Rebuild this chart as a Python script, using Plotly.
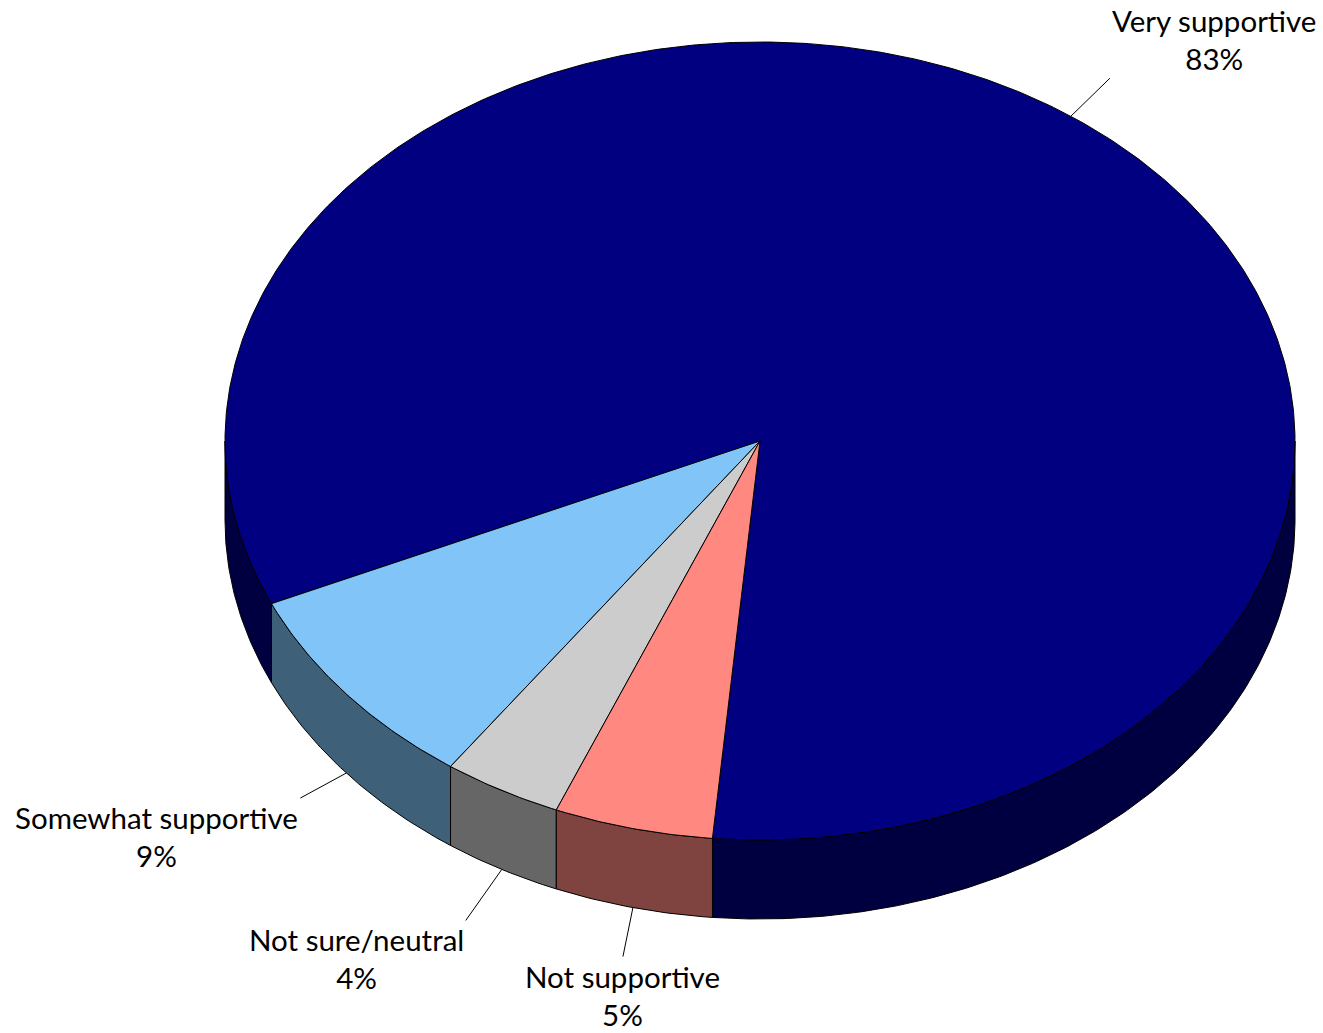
import numpy as np
import plotly.graph_objects as go

# ---- data ----
categories = ["Very supportive", "Somewhat supportive", "Not sure/neutral", "Not supportive"]
shares = [83.1, 8.5, 3.6, 4.8]          # percent of respondents (estimated)
pct_labels = ["83%", "9%", "4%", "5%"]

# ---- styles ----
top_colors = ["#000080", "#80C4F8", "#CCCCCC", "#FF8880"]
side_colors = ["#000040", "#3E6079", "#666666", "#7F4440"]

# ---- geometry (pixel space) ----
W, H = 1323, 1033
CX, CY = 760, 441
RX, RY = 535, 399
DEPTH = 79
START = 455.1          # degrees, screen-clockwise param angle; slices go counter-clockwise

# leader line vectors and label anchoring per category
leader_vec = {
    "Very supportive": (39, -38, "left", "bottom"),
    "Somewhat supportive": (-46, 25, "right", "top"),
    "Not sure/neutral": (-36, 51, "right", "top"),
    "Not supportive": (-10, 49, "center", "top"),
}

FONT = dict(family="Lato, 'Open Sans', sans-serif", size=29.5, color="black")


def pt(t_deg, dz=0.0):
    t = np.radians(t_deg)
    return CX + RX * np.cos(t), CY + RY * np.sin(t) + dz


def arc(lo, hi, dz=0.0):
    n = max(4, int(abs(hi - lo) * 2))
    ts = np.linspace(lo, hi, n)
    xs, ys = pt(ts, dz)
    return list(xs), list(ys)


fig = go.Figure()

# slice angular ranges
ranges = []
cum = 0.0
for s in shares:
    a_hi = START - cum * 3.6
    a_lo = a_hi - s * 3.6
    ranges.append((a_lo, a_hi))
    cum += s

# front side walls
for i, (lo, hi) in enumerate(ranges):
    for k in range(-1, 3):
        s0, s1 = max(lo, k * 360), min(hi, k * 360 + 180)
        if s1 - s0 <= 0.01:
            continue
        tx, ty = arc(s0, s1)
        bx, by = arc(s1, s0, DEPTH)
        fig.add_trace(go.Scatter(
            x=tx + bx + [tx[0]], y=ty + by + [ty[0]],
            mode="lines", fill="toself", fillcolor=side_colors[i],
            line=dict(color="black", width=1), hoverinfo="skip", showlegend=False))

# top faces
for i, (lo, hi) in enumerate(ranges):
    ax, ay = arc(lo, hi)
    fig.add_trace(go.Scatter(
        x=[CX] + ax + [CX], y=[CY] + ay + [CY],
        mode="lines", fill="toself", fillcolor=top_colors[i],
        line=dict(color="black", width=1), hoverinfo="skip", showlegend=False,
        name=categories[i]))

# leader lines + labels
for i, (lo, hi) in enumerate(ranges):
    mid = (lo + hi) / 2
    front = np.sin(np.radians(mid)) > 0
    x0, y0 = pt(mid, DEPTH if front else 0)
    dx, dy, xa, ya = leader_vec[categories[i]]
    x1, y1 = x0 + dx, y0 + dy
    fig.add_trace(go.Scatter(x=[x0, x1], y=[y0, y1], mode="lines",
                             line=dict(color="black", width=1),
                             hoverinfo="skip", showlegend=False))
    fig.add_annotation(x=x1, y=y1, xref="x", yref="y", showarrow=False,
                       text=f"{categories[i]}<br>{pct_labels[i]}",
                       xanchor=xa, yanchor=ya, align="center", font=FONT)

fig.update_xaxes(range=[0, W], visible=False, fixedrange=True)
fig.update_yaxes(range=[H, 0], visible=False, fixedrange=True)
fig.update_layout(width=W, height=H, autosize=False,
                  margin=dict(l=0, r=0, t=0, b=0), plot_bgcolor="white",
                  paper_bgcolor="white", showlegend=False)

fig.write_html(
    "out.html",
    config={"displayModeBar": False},
    post_script="document.body.style.margin='0';"
                "document.documentElement.style.overflow='hidden';"
                "document.body.style.overflow='hidden';",
)
